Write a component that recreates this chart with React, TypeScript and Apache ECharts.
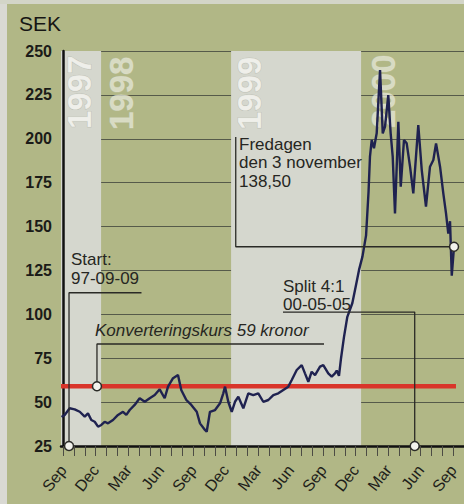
import React, { useEffect, useRef } from "react";
import * as echarts from "echarts";

// X values are in months from the first "Sep" tick (Sep 1997)
const tickLabels = ["Sep", "Dec", "Mar", "Jun", "Sep", "Dec", "Mar", "Jun", "Sep", "Dec", "Mar", "Jun", "Sep"];
const yearLabels = ["1997", "1998", "1999", "2000"];
const yValueTicks = [25, 50, 75, 100, 125, 150, 175, 200, 225, 250];

const priceMonths = [
  -0.15, 0.14, 0.6, 1.06, 1.53, 1.99, 2.29, 2.6, 2.91, 3.22, 3.52, 3.83, 4.14, 4.6, 5.06, 5.52, 5.83, 6.14,
  6.6, 7.06, 7.53, 7.99, 8.45, 8.91, 9.37, 9.68, 10.14, 10.6, 10.9, 11.37, 11.83, 12.33, 12.63, 13.09, 13.25,
  13.55, 14.02, 14.48, 14.78, 14.94, 15.24, 15.56, 15.86, 16.17, 16.63, 17.09, 17.55, 18.01, 18.47, 18.94,
  19.4, 19.86, 20.32, 20.78, 21.1, 21.56, 22.02, 22.32, 22.63, 22.94, 23.25, 23.71, 24.01, 24.47, 24.79,
  25.09, 25.25, 25.46, 25.65, 25.92, 26.23, 26.69, 27.0, 27.31, 27.63, 27.96, 28.19, 28.32, 28.48, 28.69,
  28.94, 29.25, 29.5, 29.71, 30.01, 30.23, 30.42, 30.63, 30.94, 31.16, 31.46, 31.71, 32.02, 32.32, 32.78,
  33.1, 33.49, 33.86, 34.17, 34.42, 34.79, 35.09, 35.34, 35.55, 35.71, 35.87, 36.08,
];
const priceValues = [
  41.5, 42.7, 46.5, 45.9, 44.5, 41.7, 43.6, 39.8, 38.8, 36.0, 37.0, 38.8, 37.9, 39.8, 42.7, 44.5, 42.7, 45.5,
  48.4, 52.2, 50.2, 52.2, 54.0, 57.3, 52.2, 58.8, 63.6, 65.4, 56.9, 51.2, 48.4, 44.5, 37.9, 34.1, 33.1,
  44.5, 45.5, 49.3, 55.0, 58.8, 50.2, 44.5, 50.2, 53.1, 46.5, 55.0, 54.0, 55.0, 50.2, 51.2,
  54.0, 55.0, 56.9, 58.8, 62.6, 68.3, 71.1, 66.4, 61.6, 67.3, 65.4, 70.2, 71.1, 66.4, 64.5,
  66.4, 68.0, 65.0, 75.0, 87.0, 98.6, 106.3, 115.7, 125.3, 133.0, 145.0, 170.0, 189.8, 199.3, 194.6,
  203.1, 239.2, 203.1, 206.9, 224.9, 203.1, 189.8, 157.5, 209.7, 172.7, 199.3, 197.4, 184.1, 168.9, 207.8,
  182.2, 161.3, 184.1, 187.9, 197.4, 184.1, 168.9, 157.5, 146.0, 153.0, 122.0, 138.5,
];

const conversionRate = 59;
const lastPrice = 138.5;
const startMonth = 0.54;
const splitMonth = 32.45;
const lastMonth = 36.08;
const lightYearBands = [
  [-0.2, 3.5],
  [15.5, 27.5],
];

const FONT = "'Liberation Sans', Arial, Helvetica, sans-serif";
const INK = "#262622";

export default function App() {
  const ref = useRef<HTMLDivElement>(null);

  useEffect(() => {
    if (!ref.current) return;
    const chart = echarts.init(ref.current, undefined, { renderer: "svg" });

    const price = priceMonths.map((m, i) => [m, priceValues[i]]);
    const tickValues: number[] = [];
    for (let i = 0; i <= 37; i++) tickValues.push(i);
    const labelValues = tickLabels.map((_, i) => i * 3);

    const annoLine = (data: number[][]) => ({
      type: "line",
      data,
      symbol: "none",
      silent: true,
      z: 3,
      lineStyle: { color: "#2a2a26", width: 1.3 },
    });

    const yearText = (text: string, x: number, y: number, onLight: boolean) => ({
      type: "text",
      x,
      y,
      rotation: Math.PI / 2,
      z: 2.5,
      style: {
        text,
        fontSize: 33,
        fontWeight: "bold",
        fontFamily: FONT,
        fill: onLight ? "rgba(248,248,244,0.75)" : "rgba(234,236,224,0.7)",
        stroke: onLight ? "rgba(165,167,155,0.45)" : "rgba(205,208,186,0.45)",
        lineWidth: 1,
        textAlign: "left",
        textVerticalAlign: "middle",
        align: "left",
        verticalAlign: "middle",
      },
    });

    const label = (text: string, x: number, y: number, italic = false, lh = 19) => ({
      type: "text",
      x,
      y,
      z: 5,
      style: {
        text,
        fontSize: 17,
        fontStyle: italic ? "italic" : "normal",
        fontFamily: FONT,
        fill: INK,
        lineHeight: lh,
        textAlign: "left",
        textVerticalAlign: "top",
        align: "left",
        verticalAlign: "top",
      },
    });

    chart.setOption({
      animation: false,
      backgroundColor: "#b1b786",
      grid: { left: 61, right: 0, top: 51, bottom: 58 },
      xAxis: {
        type: "value",
        min: -0.2,
        max: 37,
        z: 1,
        axisLine: { show: true, onZero: false, lineStyle: { color: "#111", width: 2.5 } },
        axisTick: { show: true, customValues: tickValues, length: 10, lineStyle: { color: "#4c4c44", width: 1 } },
        axisLabel: {
          customValues: labelValues,
          formatter: (v: number) => tickLabels[Math.round(v / 3)] ?? "",
          rotate: 52,
          margin: 21,
          fontSize: 16,
          color: "#1e1e1a",
          fontFamily: FONT,
        },
        splitLine: { show: false },
      },
      yAxis: {
        type: "value",
        min: yValueTicks[0],
        max: yValueTicks[yValueTicks.length - 1],
        interval: 25,
        z: 1,
        axisLine: { show: true, lineStyle: { color: "#111", width: 2.5 } },
        axisTick: { show: false },
        axisLabel: { fontSize: 16, fontWeight: "bold", color: "#1b1b18", margin: 9, fontFamily: FONT },
        splitLine: { show: true, lineStyle: { color: "#565a4a", width: 1 } },
      },
      series: [
        {
          type: "line",
          data: [],
          z: 0,
          silent: true,
          markArea: {
            silent: true,
            itemStyle: { color: "#d5d7ce" },
            data: lightYearBands.map((b) => [{ xAxis: b[0] }, { xAxis: b[1] }]),
          },
        },
        {
          type: "line",
          data: [
            [-0.2, conversionRate],
            [36.26, conversionRate],
          ],
          symbol: "none",
          silent: true,
          z: 2,
          lineStyle: { color: "#d9352a", width: 4.5 },
        },
        {
          type: "line",
          data: price,
          symbol: "none",
          z: 3,
          lineStyle: { color: "#1f2250", width: 2.4 },
        },
        annoLine([
          [startMonth, 25],
          [startMonth, 112.3],
          [7.23, 112.3],
        ]),
        annoLine([
          [3.12, conversionRate],
          [3.12, 83.1],
          [24.08, 83.1],
        ]),
        annoLine([
          [splitMonth, 25],
          [splitMonth, 101.3],
          [20.29, 101.3],
        ]),
        annoLine([
          [lastMonth, lastPrice],
          [15.93, lastPrice],
          [15.93, 201],
        ]),
        {
          type: "scatter",
          z: 4,
          symbolSize: 9,
          silent: true,
          itemStyle: { color: "#f2f2ec", borderColor: "#2a2a26", borderWidth: 1.5, opacity: 1 },
          data: [
            [startMonth, 25],
            [3.12, conversionRate],
            [splitMonth, 25],
            [lastMonth, lastPrice],
          ],
        },
      ],
      graphic: [
        { type: "rect", z: 0, shape: { x: 0, y: 0, width: 7, height: 504 }, style: { fill: "#d9d9d3" } },
        { type: "rect", z: 0, shape: { x: 0, y: 0, width: 464, height: 4 }, style: { fill: "#d3d5c8" } },
        yearText(yearLabels[0], 79, 129, true),
        yearText(yearLabels[1], 121, 130, false),
        yearText(yearLabels[2], 249, 130, true),
        yearText(yearLabels[3], 383, 128, false),
        {
          type: "text",
          x: 19,
          y: 13,
          z: 5,
          style: { text: "SEK", fontSize: 21, fontFamily: FONT, fill: "#161614", textAlign: "left", textVerticalAlign: "top", align: "left", verticalAlign: "top" },
        },
        label("Start:\n97-09-09", 71, 250),
        label("Konverteringskurs 59 kronor", 95, 321, true),
        label("Split 4:1\n00-05-05", 283, 277, false, 18),
        label("Fredagen\nden 3 november\n138,50", 239, 135, false, 18.5),
      ],
    });

    return () => chart.dispose();
  }, []);

  return <div ref={ref} style={{ position: "absolute", left: 0, top: 0, width: 464, height: 504 }} />;
}
